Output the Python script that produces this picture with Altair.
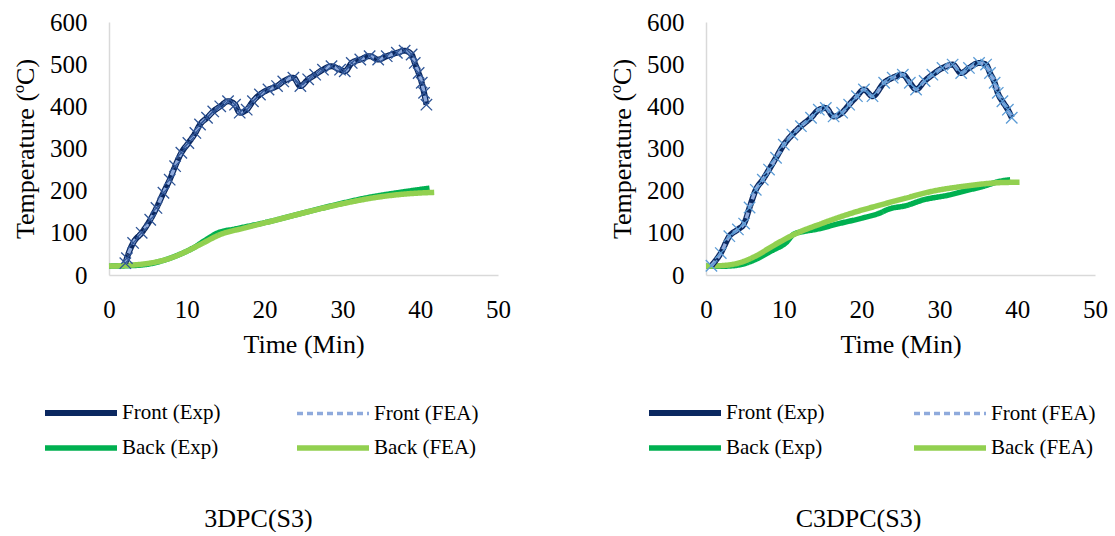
import altair as alt
import pandas as pd

# legend order (filled column by column): Front (Exp), Back (Exp) | Front (FEA), Back (FEA)
SERIES = ["Front (Exp)", "Back (Exp)", "Front (FEA)", "Back (FEA)"]

# ---------- 3DPC(S3) ----------
l_front_t = [2.1, 2.3, 3.1, 4.2, 5.3, 6.1, 7.0, 7.8, 8.5, 9.3, 10.2, 11.1, 11.7, 12.6, 13.4, 14.3,
             15.3, 16.2, 16.8, 17.7, 18.5, 19.4, 20.5, 21.6, 22.4, 23.7, 24.6, 25.6, 26.5, 27.5,
             28.6, 29.7, 30.3, 31.2, 32.3, 33.5, 34.6, 35.7, 37.0, 38.0, 38.9, 39.3, 39.8, 40.2,
             40.5, 40.8]
l_front_T = [28, 40, 76, 100, 131, 159, 195, 226, 258, 290, 313, 337, 357, 373, 388, 400,
             412, 404, 385, 392, 412, 428, 440, 448, 459, 468, 448, 464, 475, 487,
             495, 487, 483, 503, 511, 519, 511, 519, 527, 532, 523, 503, 479, 456,
             432, 404]
l_bexp_t = [0, 2.5, 4.8, 6.5, 8.7, 10.8, 12.5, 14.0, 16.2, 20.2, 24.5, 28.8, 33.1, 37.4, 41.2]
l_bexp_T = [21, 22, 25, 32, 46, 64, 84, 100, 109, 125, 145, 165, 183, 196, 206]
l_bfea_t = [0, 2.5, 4.8, 7.4, 9.5, 11.7, 14.3, 17.3, 21.6, 25.8, 30.0, 34.0, 38.0, 41.8]
l_bfea_T = [21, 23, 27, 37, 52, 72, 96, 111, 131, 151, 169, 183, 192, 196]

# ---------- C3DPC(S3) ----------
r_front_t = [0.7, 1.9, 3.0, 4.1, 4.9, 5.6, 6.4, 7.3, 8.1, 9.0, 10.0, 11.1, 12.2, 13.5, 14.5,
             15.4, 16.4, 17.5, 18.4, 19.4, 20.3, 21.4, 22.9, 24.0, 25.3, 26.2, 27.0, 28.1,
             29.1, 30.4, 31.7, 32.8, 33.8, 35.1, 36.0, 36.5, 37.1, 37.5, 38.1, 38.8, 39.3]
r_front_T = [22, 52, 92, 108, 122, 160, 202, 226, 250, 278, 309, 333, 353, 373, 392,
             396, 376, 385, 404, 424, 440, 424, 456, 468, 475, 456, 440, 460,
             475, 491, 499, 479, 491, 503, 499, 479, 456, 432, 412, 392, 373]
r_bexp_t = [0, 2.5, 4.3, 6.5, 8.5, 10.3, 11.3, 12.5, 14.1, 17.1, 20.1, 22.2, 23.6, 25.6,
            27.9, 31.3, 33.4, 35.6, 37.7, 39.1]
r_bexp_T = [21, 21, 24, 38, 58, 77, 97, 103, 108, 122, 135, 146, 157, 164,
            178, 190, 200, 210, 222, 226]
r_bfea_t = [0, 2.5, 4.3, 6.5, 8.5, 11.3, 15.0, 19.3, 22.0, 25.6, 29.2, 33.4, 37.7, 40.3]
r_bfea_T = [21, 23, 29, 46, 68, 96, 123, 150, 164, 182, 199, 211, 219, 220]

X_TICKS = [0, 10, 20, 30, 40, 50]
Y_TICKS = [0, 100, 200, 300, 400, 500, 600]

COLORS = ["#0b2860", "#00b050", "#8faadc", "#92d050"]
DASHES = [[1, 0], [1, 0], [6, 4], [1, 0]]
WIDTHS = [6, 5.5, 3.5, 5.5]

XPATH = "M-1,-1L1,1M1,-1L-1,1"
LEGEND_LINE = "M-3,0H3"
FONT = "Liberation Serif"


def frame(ft, fT, bet, beT, bft, bfT):
    rows = []
    for t, v in zip(bet, beT):
        rows.append({"t": t, "T": v, "series": "Back (Exp)"})
    for t, v in zip(bft, bfT):
        rows.append({"t": t, "T": v, "series": "Back (FEA)"})
    for t, v in zip(ft, fT):
        rows.append({"t": t, "T": v, "series": "Front (Exp)"})
    for t, v in zip(ft, fT):
        rows.append({"t": t, "T": v, "series": "Front (FEA)"})
    return pd.DataFrame(rows)


def panel(df, title, legend_x, col_pad, title_dx, marker_color):
    legend = alt.Legend(
        title=None, orient="none", legendX=legend_x, legendY=376, columns=2,
        columnPadding=col_pad, rowPadding=8, symbolType=LEGEND_LINE, symbolSize=576,
        labelFont=FONT, labelFontSize=21, labelColor="black", labelOffset=26,
        padding=0, labelLimit=0,
    )
    x = alt.X("t:Q", scale=alt.Scale(domain=[0, 50], nice=False),
              axis=alt.Axis(values=X_TICKS, title="Time (Min)", labelFlush=False))
    y = alt.Y("T:Q", scale=alt.Scale(domain=[0, 600], nice=False),
              axis=alt.Axis(values=Y_TICKS, title="Temperature (ºC)", labelFlush=False))
    color = alt.Color("series:N", scale=alt.Scale(domain=SERIES, range=COLORS), legend=legend)
    dash = alt.StrokeDash("series:N", scale=alt.Scale(domain=SERIES, range=DASHES), legend=legend)
    width = alt.StrokeWidth("series:N", scale=alt.Scale(type="ordinal", domain=SERIES, range=WIDTHS),
                            legend=legend)

    base = alt.Chart(df)
    lines = base.mark_line(interpolate="monotone").encode(
        x=x, y=y, color=color, strokeDash=dash, strokeWidth=width,
        order=alt.Order("t:Q"),
    )
    back = lines.transform_filter(alt.FieldOneOfPredicate(field="series", oneOf=["Back (Exp)", "Back (FEA)"]))
    fexp = lines.transform_filter(alt.datum.series == "Front (Exp)")
    ffea = lines.transform_filter(alt.datum.series == "Front (FEA)")
    pts = base.mark_point(shape=XPATH, filled=False, size=130, strokeWidth=1.3,
                          color=marker_color, opacity=1).encode(
        x=x, y=y
    ).transform_filter(alt.datum.series == "Front (FEA)")
    return alt.layer(back, fexp, ffea, pts).properties(
        width=389, height=253,
        title=alt.TitleParams(title, orient="bottom", font=FONT, fontSize=26,
                              fontWeight="normal", color="black", dx=title_dx, offset=47),
    )


left = panel(frame(l_front_t, l_front_T, l_bexp_t, l_bexp_T, l_bfea_t, l_bfea_T),
             "3DPC(S3)", -43, 65, -45, "#2f5597")
right = panel(frame(r_front_t, r_front_T, r_bexp_t, r_bexp_T, r_bfea_t, r_bfea_T),
              "C3DPC(S3)", -36, 78, -42, "#5b9bd5")

chart = alt.hconcat(left, right, spacing=98).resolve_legend(
    color="independent", strokeDash="independent", strokeWidth="independent"
).properties(
    padding={"left": 12, "top": 10, "right": 0, "bottom": 0}
).configure_view(stroke=None).configure_axis(
    domainColor="#d9d9d9", domainWidth=1.5, ticks=False, grid=False,
    labelFont=FONT, labelFontSize=25, labelColor="black", labelPadding=22,
    titleFont=FONT, titleFontSize=26, titleFontWeight="normal", titleColor="black",
    titlePadding=11,
).configure_axisX(titlePadding=9)

chart.save("out.html", embed_options={"renderer": "svg", "actions": False})
